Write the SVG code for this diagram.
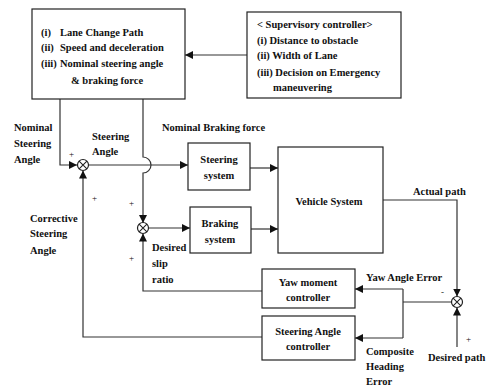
<svg xmlns="http://www.w3.org/2000/svg" width="497" height="389" viewBox="0 0 497 389">
<style>
text{font-family:"Liberation Serif","Times New Roman",serif;font-size:10.5px;font-weight:bold;fill:#111}
.box{fill:#fff;stroke:#222;stroke-width:1.2}
.ln{fill:none;stroke:#333;stroke-width:1.2}
.c{text-anchor:middle}
.s{font-size:9px;font-weight:normal}
</style>
<defs>
<marker id="ah" viewBox="0 0 10 10" refX="10" refY="5" markerWidth="8" markerHeight="8" markerUnits="userSpaceOnUse" orient="auto"><path d="M0,0 L10,5 L0,10 z" fill="#111"/></marker>
<g id="sum"><circle r="5.5" fill="#fff" stroke="#222" stroke-width="1.2"/><path d="M-3.9,-3.9 L3.9,3.9 M-3.9,3.9 L3.9,-3.9" stroke="#222" stroke-width="1.1"/></g>
</defs>
<rect width="497" height="389" fill="#fff"/>

<g id="connectors">
<path class="ln" d="M247,55 H185" marker-end="url(#ah)"/>
<path class="ln" d="M60,99 V165 H77" marker-end="url(#ah)"/>
<path class="ln" d="M143,99 V157 A8,8 0 0 1 143,173 V223" marker-end="url(#ah)"/>
<path class="ln" d="M88.5,165 H188" marker-end="url(#ah)"/>
<path class="ln" d="M148.5,228 H190" marker-end="url(#ah)"/>
<path class="ln" d="M250,168 H278" marker-end="url(#ah)"/>
<path class="ln" d="M251,229 H278" marker-end="url(#ah)"/>
<path class="ln" d="M383,200 H457 V296.5" marker-end="url(#ah)"/>
<path class="ln" d="M457,347 V307.5" marker-end="url(#ah)"/>
<path class="ln" d="M451.5,302 H403"/>
<path class="ln" d="M403,289 V338"/>
<path class="ln" d="M403,289 H355" marker-end="url(#ah)"/>
<path class="ln" d="M403,338 H355" marker-end="url(#ah)"/>
<path class="ln" d="M262,291 H143 V233.5" marker-end="url(#ah)"/>
<path class="ln" d="M262,337 H83 V170.5" marker-end="url(#ah)"/>
</g>

<g id="sum1"><use href="#sum" x="83" y="165"/></g>
<g id="sum2"><use href="#sum" x="143" y="228"/></g>
<g id="sum3"><use href="#sum" x="457" y="302"/></g>

<g id="planner">
<rect class="box" x="32" y="9" width="153" height="90"/>
<text x="41" y="36">(i)</text><text x="60" y="36">Lane Change Path</text>
<text x="41" y="51">(ii)</text><text x="60" y="51">Speed and deceleration</text>
<text x="41" y="67">(iii)</text><text x="60" y="67">Nominal steering angle</text>
<text x="71" y="84">&amp; braking force</text>
</g>

<g id="supervisory">
<rect class="box" x="247" y="12" width="154" height="86"/>
<text x="257" y="28">&lt; Supervisory controller&gt;</text>
<text x="257" y="44">(i) Distance to obstacle</text>
<text x="257" y="59">(ii) Width of Lane</text>
<text x="257" y="76">(iii) Decision on Emergency</text>
<text x="273" y="91">maneuvering</text>
</g>

<g id="steering-system">
<rect class="box" x="188" y="143" width="62" height="47"/>
<text class="c" x="219" y="163">Steering</text>
<text class="c" x="219" y="179">system</text>
</g>

<g id="braking-system">
<rect class="box" x="190" y="207" width="61" height="46"/>
<text class="c" x="220" y="227">Braking</text>
<text class="c" x="220" y="243">system</text>
</g>

<g id="vehicle-system">
<rect class="box" x="278" y="147" width="105" height="106"/>
<text class="c" x="329" y="205">Vehicle System</text>
</g>

<g id="yaw-controller">
<rect class="box" x="262" y="269" width="93" height="39"/>
<text class="c" x="308" y="286">Yaw moment</text>
<text class="c" x="308" y="301">controller</text>
</g>

<g id="steering-angle-controller">
<rect class="box" x="262" y="316" width="93" height="44"/>
<text class="c" x="308" y="335">Steering Angle</text>
<text class="c" x="308" y="350">controller</text>
</g>

<g id="labels">
<text x="14" y="131">Nominal</text>
<text x="14" y="147">Steering</text>
<text x="14" y="163">Angle</text>
<text x="92" y="140">Steering</text>
<text x="92" y="155">Angle</text>
<text x="162" y="131">Nominal Braking force</text>
<text x="30" y="222">Corrective</text>
<text x="30" y="237">Steering</text>
<text x="30" y="254">Angle</text>
<text x="152" y="251">Desired</text>
<text x="152" y="267">slip</text>
<text x="152" y="283">ratio</text>
<text x="413" y="195">Actual path</text>
<text x="366" y="281">Yaw Angle Error</text>
<text x="366" y="355">Composite</text>
<text x="366" y="370">Heading</text>
<text x="366" y="385">Error</text>
<text x="428" y="361">Desired path</text>
<text class="s" x="69" y="157">+</text>
<text class="s" x="92" y="201">+</text>
<text class="s" x="129" y="206">+</text>
<text class="s" x="129" y="261">+</text>
<text class="s" x="441" y="295">-</text>
<text class="s" x="466" y="342">+</text>
</g>
</svg>
